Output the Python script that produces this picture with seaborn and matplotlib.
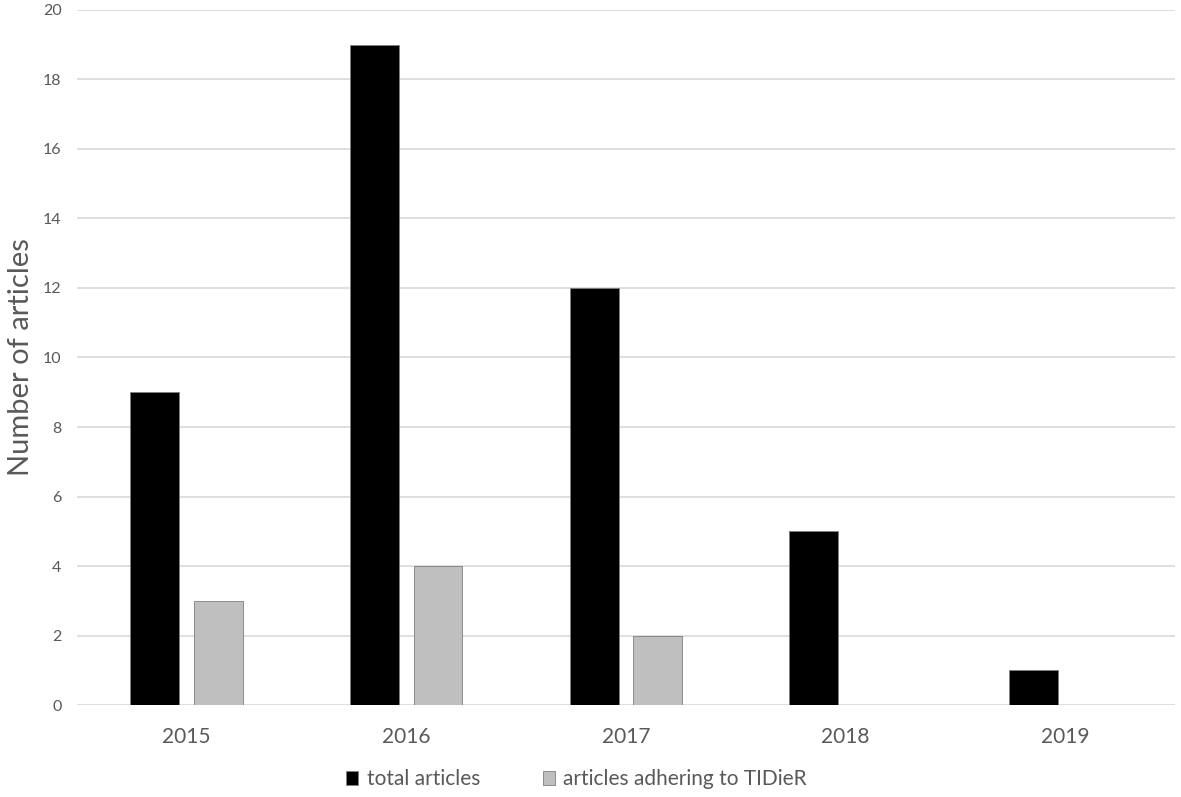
import matplotlib
matplotlib.use("Agg")
import matplotlib.pyplot as plt
import seaborn as sns
import pandas as pd

years = ["2015", "2016", "2017", "2018", "2019"]
total_articles = [9, 19, 12, 5, 1]
tidier_articles = [3, 4, 2, 0, 0]
series_names = ["total articles", "articles adhering to TIDieR"]

df = pd.DataFrame({
    "year": years * 2,
    "count": total_articles + tidier_articles,
    "series": [series_names[0]] * len(years) + [series_names[1]] * len(years),
})

sns.set_style("white")
plt.rcParams["font.family"] = ["Lato", "DejaVu Sans"]

fig = plt.figure(figsize=(11.81, 7.97), dpi=100)
ax = fig.add_axes([0.065, 0.1154, 0.930, 0.8721])

sns.barplot(data=df, x="year", y="count", hue="series",
            palette=["#000000", "#bfbfbf"], width=0.578, gap=0.23,
            edgecolor="#7f7f7f", linewidth=0.6, ax=ax)

ax.set_ylim(0, 20)
ax.set_xlim(-0.5, 4.5)
ax.set_yticks(range(0, 21, 2))
ax.yaxis.grid(True, color="#d9d9d9", linewidth=1.2)
ax.set_axisbelow(True)
for s in ax.spines.values():
    s.set_visible(False)
ax.tick_params(axis="both", length=0, colors="#595959")
ax.tick_params(axis="y", labelsize=11.5, pad=11)
ax.tick_params(axis="x", labelsize=15, pad=16)
ax.set_xlabel("")
ax.set_ylabel("Number of articles", fontsize=21, color="#595959", labelpad=6)

ax.legend(loc="center", bbox_to_anchor=(0.455, -0.107), ncol=2, frameon=False,
          fontsize=15, labelcolor="#595959", handlelength=0.6, handleheight=0.6,
          columnspacing=3.0, handletextpad=0.4)

fig.savefig("out.png")
